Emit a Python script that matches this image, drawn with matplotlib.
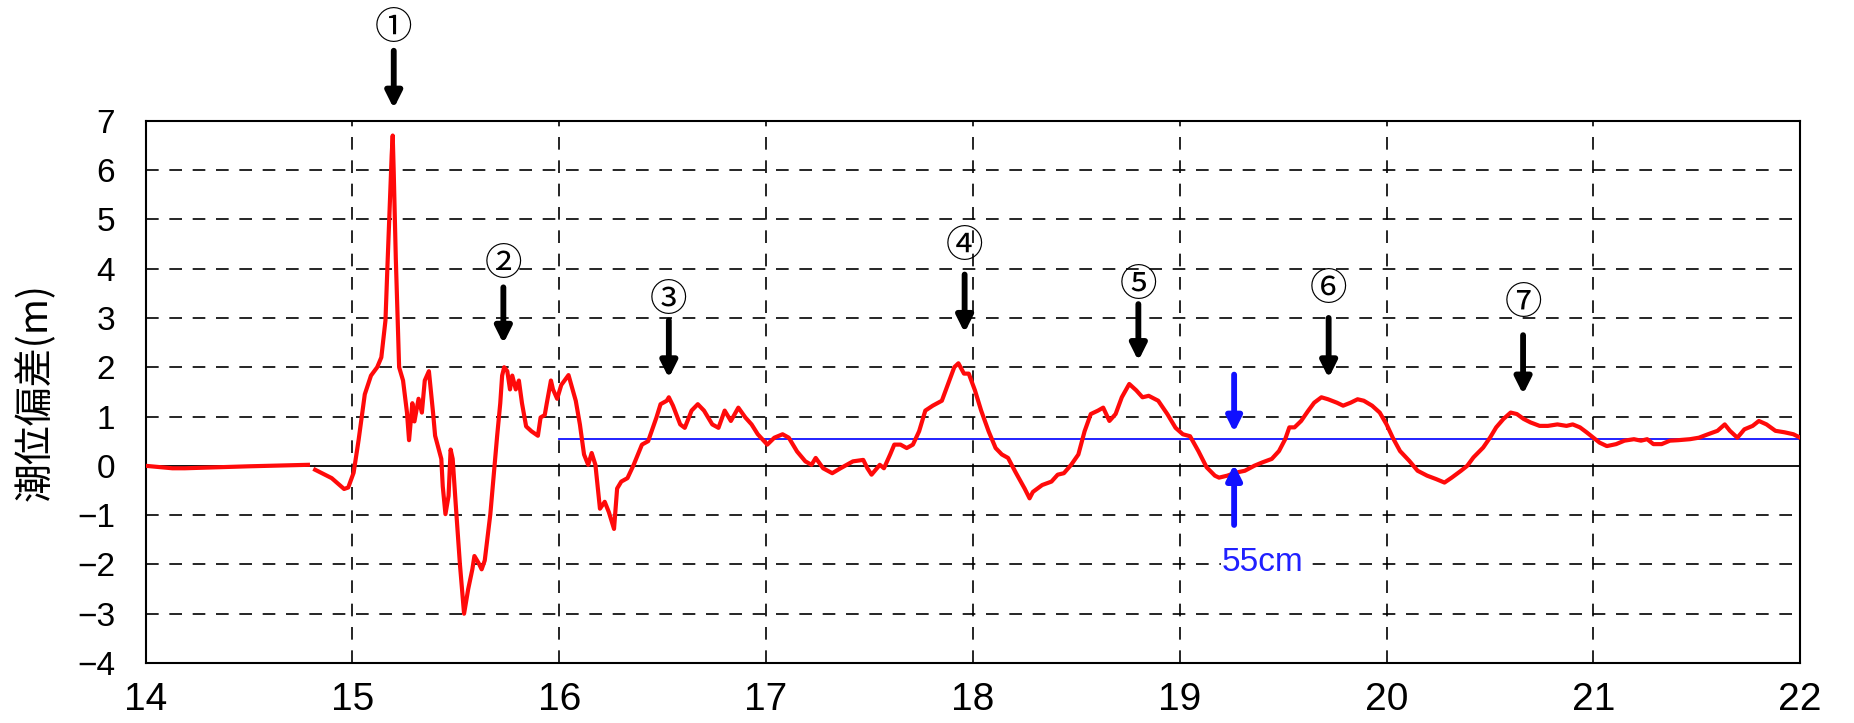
import numpy as np
import matplotlib
matplotlib.use("Agg")
import matplotlib.pyplot as plt

plt.rcParams['font.family'] = ['Liberation Sans', 'Noto Sans CJK JP', 'DejaVu Sans']

# time (hours) and tide deviation (m)
t = [14.0, 14.13, 14.19, 14.5, 14.785, np.nan, 14.82, 14.9, 14.96, 14.98, 15.006, 15.03, 15.06, 15.09,
     15.12, 15.14, 15.16, 15.17, 15.19, 15.195, 15.2, 15.21, 15.226, 15.245, 15.264,
     15.274, 15.29, 15.30, 15.32, 15.336, 15.35, 15.37, 15.39, 15.40, 15.43, 15.437,
     15.45, 15.465, 15.475, 15.485, 15.50, 15.52, 15.54, 15.56, 15.58, 15.59, 15.61,
     15.625, 15.64, 15.667, 15.686, 15.70, 15.715, 15.724, 15.734, 15.749, 15.762,
     15.773, 15.79, 15.805, 15.82, 15.84, 15.866, 15.897, 15.91, 15.93, 15.94, 15.96,
     15.97, 15.99, 16.01, 16.045,
     16.08, 16.10, 16.12, 16.14, 16.157, 16.175, 16.197, 16.22, 16.24, 16.265, 16.28,
     16.30, 16.33, 16.36, 16.40, 16.43, 16.47, 16.49, 16.52, 16.53, 16.55, 16.585,
     16.607, 16.64, 16.67, 16.70, 16.74, 16.77, 16.80, 16.83, 16.866, 16.9, 16.93,
     16.96, 17.006, 17.04, 17.08, 17.11, 17.15, 17.19, 17.22, 17.24, 17.276, 17.32,
     17.36, 17.42, 17.47, 17.49, 17.51, 17.55, 17.57, 17.60, 17.62, 17.65, 17.68,
     17.71, 17.74, 17.77, 17.806, 17.85, 17.88, 17.91, 17.93, 17.957, 17.98, 18.01,
     18.04, 18.076, 18.11, 18.14, 18.17, 18.205, 18.25, 18.274, 18.29, 18.335, 18.38,
     18.41, 18.44, 18.475, 18.51, 18.54, 18.57, 18.605, 18.63, 18.66, 18.69, 18.72,
     18.756, 18.79, 18.82, 18.85, 18.896, 18.94, 18.98, 19.015, 19.05, 19.09, 19.13,
     19.17, 19.19, 19.23, 19.27, 19.315, 19.36, 19.40, 19.445, 19.48, 19.51, 19.53,
     19.555, 19.587, 19.62, 19.65, 19.685, 19.717, 19.76, 19.79, 19.826, 19.86, 19.89,
     19.93, 19.967, 20.0, 20.03, 20.065, 20.11, 20.15, 20.196, 20.24, 20.28, 20.315,
     20.36, 20.39, 20.42, 20.467, 20.5, 20.53, 20.565, 20.6, 20.63, 20.663, 20.696,
     20.74, 20.78, 20.826, 20.87, 20.9, 20.935, 20.967, 21.0, 21.03, 21.065, 21.11,
     21.15, 21.196, 21.23, 21.26, 21.29, 21.33, 21.37, 21.41, 21.467, 21.51, 21.554,
     21.6, 21.635, 21.66, 21.696, 21.73, 21.77, 21.8, 21.837, 21.88, 21.924, 21.967, 22.0]
h = [0.0, -0.05, -0.05, -0.01, 0.02, np.nan, -0.08, -0.25, -0.47, -0.44, -0.14, 0.52, 1.45, 1.83,
     2.0, 2.2, 2.95, 4.1, 6.3, 6.7, 5.95, 4.2, 2.0, 1.73, 1.08,
     0.52, 1.27, 0.9, 1.36, 1.08, 1.73, 1.92, 1.08, 0.61, 0.14, -0.42,
     -0.98, -0.61, 0.33, 0.14, -0.8, -2.0, -3.0, -2.5, -2.1, -1.83, -1.97,
     -2.1, -1.92, -0.98, -0.05, 0.61, 1.27, 1.83, 2.0, 1.92, 1.55,
     1.83, 1.55, 1.73, 1.27, 0.8, 0.7, 0.61, 0.98, 1.03, 1.27, 1.73,
     1.55, 1.36, 1.64, 1.84,
     1.32, 0.84, 0.23, 0.02, 0.26, 0.02, -0.87, -0.73, -0.94, -1.28, -0.46,
     -0.32, -0.25, 0.02, 0.43, 0.5, 0.98, 1.25, 1.32, 1.39, 1.22, 0.84,
     0.77, 1.12, 1.25, 1.12, 0.84, 0.77, 1.12, 0.91, 1.18, 0.98, 0.84,
     0.64, 0.43, 0.57, 0.64, 0.57, 0.29, 0.09, 0.02, 0.16, -0.05, -0.15,
     -0.05, 0.09, 0.12, -0.05, -0.18, 0.02, -0.05, 0.23, 0.43, 0.43, 0.36,
     0.43, 0.7, 1.12, 1.22, 1.32, 1.66, 2.0, 2.08, 1.87, 1.87, 1.53,
     1.12, 0.7, 0.36, 0.23, 0.16, -0.12, -0.46, -0.66, -0.53, -0.39, -0.32,
     -0.18, -0.15, 0.02, 0.23, 0.7, 1.05, 1.12, 1.18, 0.91, 1.05, 1.39,
     1.66, 1.53, 1.39, 1.42, 1.32, 1.05, 0.77, 0.64, 0.6, 0.3, -0.03,
     -0.2, -0.24, -0.2, -0.14, -0.1, 0.0, 0.07, 0.14, 0.3, 0.54, 0.78,
     0.78, 0.91, 1.11, 1.28, 1.39, 1.35, 1.28, 1.22, 1.28, 1.35, 1.32,
     1.22, 1.08, 0.84, 0.57, 0.3, 0.1, -0.1, -0.2, -0.27, -0.34, -0.24,
     -0.1, 0.0, 0.17, 0.37, 0.57, 0.78, 0.95, 1.08, 1.05, 0.95, 0.88,
     0.81, 0.81, 0.84, 0.81, 0.84, 0.78, 0.68, 0.57, 0.47, 0.4, 0.44,
     0.51, 0.54, 0.51, 0.54, 0.44, 0.44, 0.51, 0.52, 0.54, 0.57, 0.64,
     0.71, 0.84, 0.71, 0.57, 0.74, 0.81, 0.91, 0.84, 0.71, 0.68, 0.64, 0.57]

# reference level line (blue)
ref_start, ref_end, ref_level = 16.0, 22.0, 0.55

# peak annotations: label, x, text y, arrow start y, arrow tip y
peak_labels = ['①', '②', '③', '④', '⑤', '⑥', '⑦']
peak_x = [15.20, 15.73, 16.53, 17.96, 18.80, 19.72, 20.66]
peak_text_y = [8.88, 4.08, 3.36, 4.45, 3.65, 3.58, 3.30]
peak_arrow_from = [8.42, 3.62, 2.95, 3.88, 3.28, 3.0, 2.65]
peak_arrow_to = [7.25, 2.48, 1.78, 2.70, 2.13, 1.78, 1.45]

xticks = [14, 15, 16, 17, 18, 19, 20, 21, 22]
yticks = [-4, -3, -2, -1, 0, 1, 2, 3, 4, 5, 6, 7]

fig = plt.figure(figsize=(18.54, 7.23), dpi=100)
ax = fig.add_axes([0.0785, 0.083, 0.8925, 0.750])
ax.set_xlim(14, 22)
ax.set_ylim(-4, 7)

dash = (0, (7.6, 6.4))
for x in xticks[1:-1]:
    ax.axvline(x, color='black', lw=1.2, ls=dash, zorder=1)
for y in yticks[1:-1]:
    if y == 0:
        ax.axhline(0, color='black', lw=1.3, zorder=1)
    else:
        ax.axhline(y, color='black', lw=1.2, ls=dash, zorder=1)

ax.plot([ref_start, ref_end], [ref_level, ref_level], color='#1010ff', lw=1.3, zorder=2)
ax.plot(t, h, color='#ff0a0a', lw=3.0, zorder=3)

for lab, x, ty, y0, y1 in zip(peak_labels, peak_x, peak_text_y, peak_arrow_from, peak_arrow_to):
    ax.annotate('', xy=(x, y1), xytext=(x, y0), annotation_clip=False,
                arrowprops=dict(arrowstyle='-|>', color='black', lw=4.2,
                                mutation_scale=24, shrinkA=0, shrinkB=0), zorder=5)
    ax.text(x, ty, lab, ha='center', va='center', fontsize=27,
            family=['Noto Sans CJK JP', 'DejaVu Sans'], clip_on=False, zorder=5)

# 55cm marker
bx = 19.263
ax.annotate('', xy=(bx, 0.68), xytext=(bx, 1.85),
            arrowprops=dict(arrowstyle='-|>', color='#1010ff', lw=4.2,
                            mutation_scale=22, shrinkA=0, shrinkB=0), zorder=5)
ax.annotate('', xy=(bx, 0.03), xytext=(bx, -1.2),
            arrowprops=dict(arrowstyle='-|>', color='#1010ff', lw=4.2,
                            mutation_scale=22, shrinkA=0, shrinkB=0), zorder=5)
ax.text(19.40, -1.97, '55cm', color='#2020ff', fontsize=24, ha='center', va='center',
        zorder=5, bbox=dict(facecolor='white', edgecolor='none', pad=0.3))

ax.set_xticks(xticks)
ax.set_yticks(yticks)
ax.set_xticklabels([str(v) for v in xticks], fontsize=28)
ax.set_yticklabels([str(v).replace('-', '\u2212') for v in yticks], fontsize=24)
ax.tick_params(axis='both', length=0)
ax.tick_params(axis='x', pad=14)
ax.tick_params(axis='y', pad=22)
for s in ax.spines.values():
    s.set_linewidth(1.5)
    s.set_color('black')

fig.text(0.019, 0.458, '潮位偏差(m)', rotation=90, ha='center', va='center', fontsize=28,
         family=['Noto Sans CJK JP', 'DejaVu Sans'])

fig.savefig('out.png', dpi=100)
